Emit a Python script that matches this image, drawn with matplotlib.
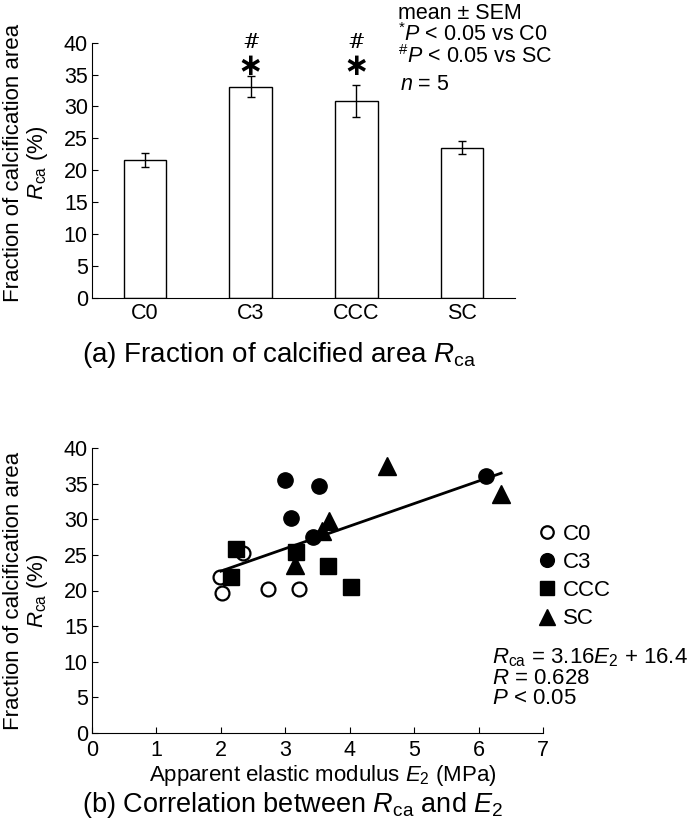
import numpy as np
import matplotlib
matplotlib.use("Agg")
import matplotlib.pyplot as plt

plt.rcParams['font.family'] = ['Liberation Sans', 'DejaVu Sans']
plt.rcParams['mathtext.fontset'] = 'custom'
plt.rcParams['mathtext.rm'] = 'Liberation Sans'
plt.rcParams['mathtext.it'] = 'Liberation Sans:italic'

# (a) bar chart data
groups = ["C0", "C3", "CCC", "SC"]
means = [21.6, 33.1, 30.9, 23.5]
sems = [1.1, 1.7, 2.5, 1.0]
has_mark = [False, True, True, False]

# (b) scatter data, E2 (MPa) vs Rca (%)
c0_e = [2.02, 1.99, 2.34, 2.73, 3.22]
c0_r = [19.7, 21.9, 25.2, 20.2, 20.2]
c3_e = [2.99, 3.53, 3.09, 3.43, 6.11]
c3_r = [35.5, 34.7, 30.2, 27.5, 36.1]
ccc_e = [2.23, 2.16, 3.17, 3.66, 4.02]
ccc_r = [25.8, 21.9, 25.4, 23.5, 20.5]
sc_e = [4.58, 6.35, 3.68, 3.57, 3.15]
sc_r = [37.5, 33.6, 29.7, 28.3, 23.6]
fit_slope, fit_icpt = 3.16, 16.4
fit_range = [2.0, 6.35]

W, H = 689, 823
fig = plt.figure(figsize=(W / 100, H / 100), dpi=100)

def fx(x):
    return x / W

def fy(y):
    return 1 - y / H

ylab = "Fraction of calcification area\n$R_\\mathrm{ca}$ (%)"

# ---- panel (a)
ax1 = fig.add_axes([fx(92), fy(297.5), fx(515) - fx(92), fy(42.7) - fy(297.5)])
xs = np.arange(len(groups))
ax1.bar(xs, means, width=0.4, color="white", edgecolor="black", linewidth=1.0,
        yerr=sems, capsize=2.8, error_kw=dict(elinewidth=1.0, capthick=1.0))
ax1.set_xlim(-0.5, 3.5)
ax1.set_ylim(0, 40)
ax1.set_yticks(range(0, 41, 5))
ax1.set_xticks(xs)
ax1.set_xticklabels(groups)
ax1.spines['top'].set_visible(False)
ax1.spines['right'].set_visible(False)
ax1.tick_params(axis='y', direction='in', length=4, labelsize=15.5, pad=3)
ax1.tick_params(axis='x', length=0, labelsize=15.5, pad=4)
for i in range(len(groups)):
    if has_mark[i]:
        ax1.text(xs[i], 40.1, "#", ha='center', va='center', fontsize=15,
                 family=['DejaVu Serif'], clip_on=False)
        ax1.text(xs[i], 36.3, "∗", ha='center', va='center', fontsize=22,
                 family=['DejaVu Sans'], fontweight='bold', clip_on=False)
ax1.set_ylabel(ylab, fontsize=16, linespacing=1.05)
ax1.yaxis.set_label_coords((50 - 92) / (515 - 92), 0.53)

fig.text(fx(398), fy(3), "mean ± SEM\n$^{*}$$P$ < 0.05 vs C0\n$^{\\#}$$P$ < 0.05 vs SC",
         fontsize=15.5, va='top', linespacing=0.95)
fig.text(fx(400), fy(84), "$n$ = 5", fontsize=15.5, va='center')
fig.text(fx(82), fy(355), "(a) Fraction of calcified area $R_\\mathrm{ca}$", fontsize=20,
         va='center')

# ---- panel (b)
ax2 = fig.add_axes([fx(92), fy(733), fx(543) - fx(92), fy(448) - fy(733)])
ax2.plot(c0_e, c0_r, 'o', mfc='white', mec='black', mew=1.6, ms=10, label="C0", zorder=3)
ax2.plot(c3_e, c3_r, 'o', color='black', ms=11, label="C3", zorder=3)
ax2.plot(ccc_e, ccc_r, 's', color='black', ms=11, label="CCC", zorder=3)
ax2.plot(sc_e, sc_r, '^', color='black', ms=13.5, label="SC", zorder=3)
fx_line = np.array(fit_range)
ax2.plot(fx_line, fit_slope * fx_line + fit_icpt, color='black', lw=2, zorder=4)
ax2.set_xlim(0, 7)
ax2.set_ylim(0, 40)
ax2.set_xticks(range(0, 8))
ax2.set_yticks(range(0, 41, 5))
ax2.spines['top'].set_visible(False)
ax2.spines['right'].set_visible(False)
ax2.tick_params(axis='y', direction='in', length=4, labelsize=15.5, pad=3)
ax2.tick_params(axis='x', direction='in', length=4, labelsize=15.5, pad=5)
ax2.set_ylabel(ylab, fontsize=16, linespacing=1.05)
ax2.yaxis.set_label_coords((50 - 92) / (543 - 92), 0.5)
ax2.set_xlabel("Apparent elastic modulus $E_2$ (MPa)", fontsize=16)
ax2.xaxis.set_label_coords((323 - 92) / (543 - 92), -30 / 285)
ax2.legend(loc='upper left', bbox_to_anchor=(fx(537), fy(524)),
           bbox_transform=fig.transFigure, frameon=False, fontsize=16,
           handletextpad=0.25, handlelength=0.9, labelspacing=0.32,
           borderaxespad=0, borderpad=0, markerscale=0.9)

fig.text(fx(492), fy(646),
         "$R_\\mathrm{ca}$ = 3.16$E_2$ + 16.4\n$R$ = 0.628\n$P$ < 0.05",
         fontsize=16, va='top', linespacing=0.95)
fig.text(fx(82), fy(805), "(b) Correlation between $R_\\mathrm{ca}$ and $E_2$", fontsize=19.5,
         va='center')

fig.savefig("out.png", dpi=100)
